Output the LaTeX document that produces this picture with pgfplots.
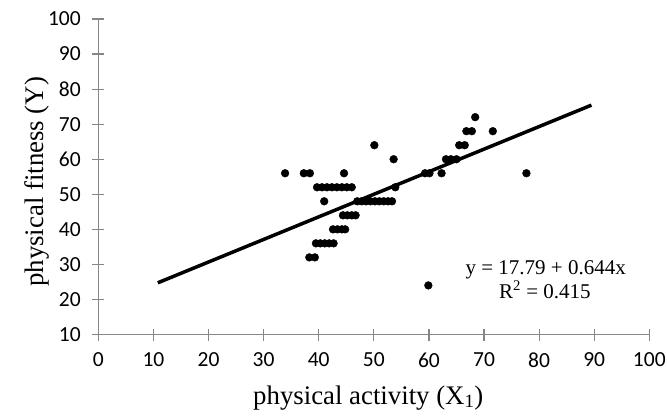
\documentclass[border=0pt]{standalone}
\usepackage{pgfplots}
\pgfplotsset{compat=1.18}
\usepackage{fontspec}
\setmainfont{Liberation Serif}
\newfontfamily\carlito{Carlito}
\definecolor{axgray}{HTML}{868686}
\newcommand{\tickfont}{\carlito\fontsize{21.5bp}{25bp}\selectfont}
\begin{document}
\begin{tikzpicture}
\path[use as bounding box] (-98.3bp,-84.5bp) rectangle (568.7bp,334.5bp);
\begin{axis}[
  at={(0,0)}, anchor=south west,
  scale only axis, width=551bp, height=315.5bp,
  xmin=0, xmax=100, ymin=10, ymax=100,
  xtick={0,10,...,100}, ytick={10,20,...,100},
  axis x line=bottom, axis y line=left,
  axis line style={-, draw=axgray, line width=1.2bp},
  tick style={draw=axgray, line width=1.2bp},
  tick align=center, major tick length=12bp,
  /pgf/number format/assume math mode=true,
  xticklabel={\tickfont\pgfmathprintnumber[assume math mode=true]{\tick}},
  yticklabel={\tickfont\pgfmathprintnumber[assume math mode=true]{\tick}},
  xticklabel style={anchor=north, yshift=-9bp, text=black},
  yticklabel style={anchor=east, xshift=-8bp, text=black},
  label style={font=\fontsize{26.8bp}{31bp}\selectfont},
  xlabel={physical activity (X\textsubscript{1})},
  ylabel={physical fitness (Y)},
  xlabel style={at={(axis description cs:0.49,-0.2203)}, anchor=base},
  ylabel style={at={(axis description cs:-0.0991,0.484)}, anchor=base},
  clip=false,
]
\addplot[only marks, mark=*, mark size=3.9bp, black] coordinates {
(33.9,56) (37.3,56) (38.4,56) (44.6,56) (59.3,56) (60.1,56) (62.3,56) (77.7,56)
(53.6,60) (63.1,60) (64.0,60) (65.0,60)
(50.1,64) (65.5,64) (66.5,64)
(66.8,68) (67.8,68) (71.6,68)
(68.4,72)
(39.7,52) (40.6,52) (41.5,52) (42.4,52) (43.3,52) (44.2,52) (45.1,52) (46.0,52) (53.9,52)
(41.0,48) (47.0,48) (47.8,48) (48.6,48) (49.4,48) (50.2,48) (51.0,48) (51.8,48) (52.6,48) (53.3,48)
(44.4,44) (45.2,44) (46.0,44) (46.7,44)
(42.6,40) (43.4,40) (44.2,40) (44.8,40)
(39.5,36) (40.3,36) (41.1,36) (41.9,36) (42.7,36)
(38.3,32) (39.3,32)
(59.9,24)
};
\addplot[black, line width=3.5bp] coordinates {(10.8,24.75) (89.5,75.43)};
\node[anchor=base, font=\fontsize{21bp}{24bp}\selectfont] at (axis cs:81.2,27.0) {y = 17.79 + 0.644x};
\node[anchor=base, font=\fontsize{21bp}{24bp}\selectfont] at (axis cs:81.05,20.3) {R\textsuperscript{2} = 0.415};
\end{axis}
\end{tikzpicture}
\end{document}
